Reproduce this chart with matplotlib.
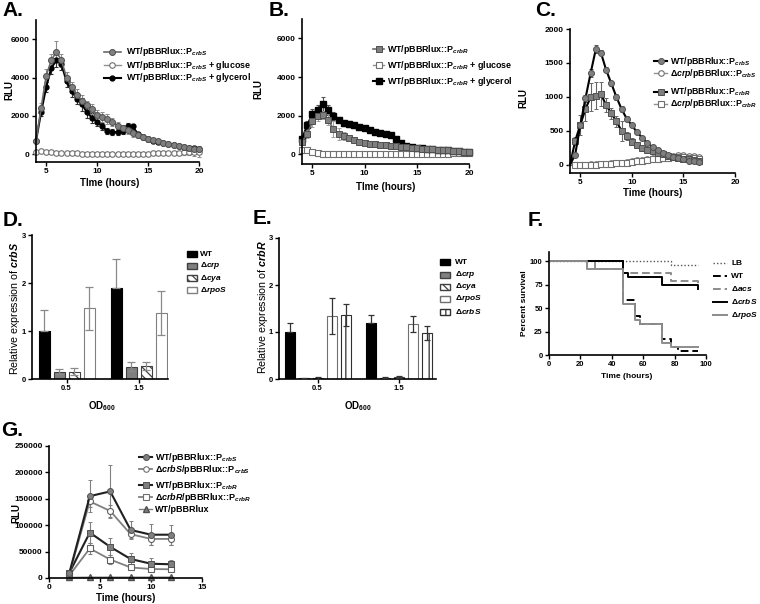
import numpy as np
import matplotlib
matplotlib.use("Agg")
import matplotlib.pyplot as plt
from matplotlib.lines import Line2D
from matplotlib.patches import Rectangle

plt.rcParams.update({
    "font.family": "Liberation Sans",
    "font.weight": "bold",
    "mathtext.fontset": "custom",
    "mathtext.rm": "Liberation Sans:bold",
    "mathtext.bf": "Liberation Sans:bold",
    "mathtext.it": "Liberation Sans:italic",
    "mathtext.bfit": "Liberation Sans:italic:bold",
    "hatch.linewidth": 0.9,
})

# ---------------- data ----------------
# A: PcrbS reporter, 0.5 h reads
A_t = [4, 4.5, 5, 5.5, 6, 6.5, 7, 7.5, 8, 8.5, 9, 9.5, 10, 10.5, 11, 11.5, 12,
       12.5, 13, 13.5, 14, 14.5, 15, 15.5, 16, 16.5, 17, 17.5, 18, 18.5, 19, 19.5, 20]
A_wt = [700, 2400, 4100, 4900, 5350, 4900, 4000, 3500, 3100, 2800, 2550, 2350, 2050,
        1950, 1850, 1700, 1500, 1350, 1250, 1100, 1000, 900, 800, 750, 700, 600, 550,
        500, 450, 400, 350, 300, 300]
A_wt_err = [100, 250, 350, 350, 550, 350, 300, 250, 300, 300, 250, 250, 250, 250, 250,
            200, 200, 200, 200, 200, 150, 150, 150, 120, 120, 120, 100, 100, 100, 100,
            100, 150, 150]
A_glu = [100, 150, 120, 100, 80, 70, 60, 50, 50, 40, 40, 30, 30, 30, 30, 30, 30, 30, 30,
         30, 40, 40, 40, 50, 50, 60, 70, 80, 90, 100, 100, 110, 120]
A_glu_err = [30, 40, 30, 30, 30, 30, 30, 30, 30, 30, 30, 30, 30, 30, 30, 30, 30, 30, 30,
             30, 30, 30, 30, 40, 40, 50, 60, 80, 100, 120, 150, 200, 250]
A_gly = [700, 2200, 3500, 4500, 4900, 4700, 3800, 3300, 2900, 2600, 2200, 1900, 1700,
         1450, 1200, 1150, 1150, 1200, 1500, 1450, 1050, 900, 800, 700, 650, 600, 550,
         500, 450, 400, 350, 330, 300]
A_gly_err = [100, 200, 250, 300, 350, 300, 300, 300, 300, 350, 300, 250, 250, 200, 150,
             150, 150, 150, 150, 150, 100, 100, 100, 100, 100, 100, 100, 100, 100, 100,
             100, 100, 100]

# B: PcrbR reporter
B_t = A_t
B_wt = [650, 1050, 1700, 2000, 2050, 1800, 1300, 1050, 950, 850, 750, 650, 600, 550,
        520, 500, 480, 450, 420, 400, 380, 350, 320, 300, 280, 260, 240, 220, 200, 180,
        160, 140, 120]
B_wt_err = [100, 200, 300, 250, 200, 300, 400, 300, 200, 150, 100, 100, 80, 80, 80, 80,
            80, 80, 80, 60, 60, 60, 60, 60, 60, 50, 50, 50, 50, 50, 50, 50, 50]
B_glu = [200, 220, 120, 50, 30, 20, 20, 20, 20, 20, 20, 20, 20, 20, 20, 20, 20, 20, 20,
         20, 20, 20, 20, 20, 30, 30, 30, 40, 40, 50, 50, 60, 60]
B_gly = [800, 1500, 2100, 2300, 2600, 2300, 2000, 1800, 1600, 1550, 1500, 1400, 1350,
         1250, 1150, 1100, 1050, 1000, 800, 600, 450, 400, 350, 330, 300, 280, 250, 220,
         200, 170, 150, 130, 120]
B_gly_err = [150, 200, 250, 250, 350, 250, 200, 150, 150, 150, 120, 120, 100, 100, 100,
             100, 100, 100, 80, 80, 60, 60, 60, 60, 50, 50, 50, 50, 50, 50, 50, 50, 50]

# C: WT vs crp mutant
C_t = [4, 4.5, 5, 5.5, 6, 6.5, 7, 7.5, 8, 8.5, 9, 9.5, 10, 10.5, 11, 11.5, 12, 12.5,
       13, 13.5, 14, 14.5, 15, 15.5, 16, 16.5]
C_S_wt = [0, 150, 580, 980, 1350, 1700, 1650, 1400, 1200, 1000, 820, 680, 580, 480,
          400, 320, 260, 220, 180, 140, 120, 100, 80, 60, 50, 40]
C_S_wt_err = [0, 30, 40, 50, 60, 60, 40, 40, 40, 40, 40, 40, 30, 30, 30, 30, 30, 30,
              30, 30, 30, 30, 30, 30, 30, 30]
C_S_crp = [0, 0, 0, 5, 10, 10, 15, 15, 20, 25, 30, 40, 55, 65, 75, 85, 95, 105, 115,
           125, 135, 140, 140, 135, 125, 115]
C_R_wt = [0, 350, 590, 820, 1000, 1020, 1040, 880, 760, 640, 500, 420, 340, 290, 250,
          220, 200, 180, 160, 130, 110, 100, 90, 80, 70, 60]
C_R_wt_err = [0, 60, 150, 180, 200, 200, 180, 100, 80, 80, 150, 60, 50, 40, 40, 40, 30,
              30, 30, 30, 30, 30, 30, 30, 30, 30]
C_R_crp = [0, 0, 0, 0, 5, 5, 10, 10, 15, 20, 25, 30, 40, 50, 60, 70, 80, 90, 95, 105,
           110, 115, 110, 105, 95, 85]

# D / E: qRT-PCR
OD_labels = ["0.5", "1.5"]
D_wt, D_wt_err = [1.0, 1.89], [0.44, 0.60]
D_crp, D_crp_err = [0.15, 0.26], [0.05, 0.09]
D_cya, D_cya_err = [0.15, 0.27], [0.07, 0.08]
D_rpos, D_rpos_err = [1.47, 1.37], [0.44, 0.46]

E_wt, E_wt_err = [1.0, 1.2], [0.19, 0.16]
E_crp, E_crp_err = [0.02, 0.03], [0.01, 0.01]
E_cya, E_cya_err = [0.02, 0.04], [0.015, 0.02]
E_rpos, E_rpos_err = [1.34, 1.17], [0.38, 0.16]
E_crbs, E_crbs_err = [1.36, 0.98], [0.24, 0.15]

# F: survival
F_LB_t, F_LB = [0, 78, 95], [100, 95.8, 95.8]
F_WT_t, F_WT = [0, 47, 55, 58, 72, 78, 82, 95], [100, 58.3, 41.7, 33.3, 16.7, 8.3, 4.2, 4.2]
F_acs_t, F_acs = [0, 29, 47, 78, 95], [100, 91.7, 87.5, 79.2, 75.0]
F_crbS_t, F_crbS = [0, 47, 50, 72, 95], [100, 87.5, 83.3, 75.0, 70.8]
F_rpoS_t, F_rpoS = [0, 24, 47, 55, 58, 72, 78, 95], [100, 91.7, 54.2, 37.5, 33.3, 12.5, 8.3, 8.3]

# G: crbS / crbR autoregulation
G_t = [2, 4, 6, 8, 10, 12]
G_S_wt = [10000, 155000, 164000, 91000, 82000, 82000]
G_S_wt_err = [2000, 30000, 50000, 17000, 20000, 19000]
G_S_mut = [8000, 145000, 127000, 83000, 74000, 74000]
G_S_mut_err = [2000, 10000, 12000, 8000, 12000, 11000]
G_R_wt = [10000, 86000, 59000, 36000, 27000, 26000]
G_R_wt_err = [2000, 20000, 16000, 11000, 10000, 9000]
G_R_mut = [5000, 56000, 35000, 20000, 17000, 16500]
G_R_mut_err = [1000, 10000, 8000, 4000, 4000, 4000]
G_empty = [1000, 1500, 1500, 1500, 1500, 1500]

# ---------------- helpers ----------------
W, H = 760, 604
fig = plt.figure(figsize=(W / 100, H / 100), dpi=100)


def box(x0, y0, x1, y1):
    return [x0 / W, 1 - y1 / H, (x1 - x0) / W, (y1 - y0) / H]


def ftext(x, y, s, **kw):
    kw.setdefault("ha", "center")
    kw.setdefault("va", "center")
    fig.text(x / W, 1 - y / H, s, **kw)


def style(ax, fs=6):
    for s in ["top", "right"]:
        ax.spines[s].set_visible(False)
    for s in ["left", "bottom"]:
        ax.spines[s].set_linewidth(1.2)
    ax.tick_params(direction="out", length=3, width=1.0, labelsize=fs, pad=1.5)
    for lab in ax.get_xticklabels() + ax.get_yticklabels():
        lab.set_fontweight("bold")


def leg_line(x0, x1, y, tx, text, fs=7, **kw):
    xs = [x0 / W, (x0 + x1) / 2 / W, x1 / W]
    ys = [1 - y / H] * 3
    fig.add_artist(Line2D(xs, ys, markevery=[1], transform=fig.transFigure, **kw))
    ftext(tx, y, text, ha="left", fontsize=fs)


def leg_patch(x, y, tx, text, fs=6, **kw):
    fig.add_artist(Rectangle((x / W, 1 - (y + 3) / H), 10 / W, 6 / H,
                             transform=fig.transFigure, **kw))
    ftext(tx, y, text, ha="left", fontsize=fs)


GREY = "#7f7f7f"
DARK = "#505050"
ekw = dict(elinewidth=0.8, capsize=1.5, capthick=0.8, clip_on=False)

# ---------------- A ----------------
axA = fig.add_axes(box(36, 20, 199, 162))
axA.errorbar(A_t, A_glu, yerr=A_glu_err, color="#909090", marker="o", ms=4, mfc="white",
             mec="#707070", mew=0.8, lw=1.0, ecolor="#909090", **ekw)
axA.errorbar(A_t, A_gly, yerr=A_gly_err, color="black", marker="o", ms=3.5, mfc="black",
             mec="black", lw=1.5, ecolor="#333333", **ekw)
axA.errorbar(A_t, A_wt, yerr=A_wt_err, color="#6a6a6a", marker="o", ms=4.3, mfc=GREY,
             mec=DARK, mew=0.7, lw=1.2, ecolor="#8c8c8c", **ekw)
axA.set_xlim(4, 20)
axA.set_ylim(-400, 7000)
axA.set_xticks([5, 10, 15, 20])
axA.set_yticks([0, 2000, 4000, 6000])
style(axA)

# ---------------- B ----------------
axB = fig.add_axes(box(302, 19, 469, 164))
axB.errorbar(B_t, B_glu, color="#909090", marker="s", ms=4, mfc="white", mec="#707070",
             mew=0.8, lw=1.0, **ekw)
axB.errorbar(B_t, B_gly, yerr=B_gly_err, color="black", marker="s", ms=4, mfc="black",
             mec="black", lw=1.5, ecolor="#555555", **ekw)
axB.errorbar(B_t, B_wt, yerr=B_wt_err, color="#6a6a6a", marker="s", ms=4, mfc=GREY,
             mec=DARK, mew=0.7, lw=1.2, ecolor="#a0a0a0", **ekw)
axB.set_xlim(4, 20)
axB.set_ylim(-500, 7000)
axB.set_xticks([5, 10, 15, 20])
axB.set_yticks([0, 2000, 4000, 6000])
style(axB)

# ---------------- C ----------------
axC = fig.add_axes(box(570, 29, 735, 173))
axC.errorbar(C_t[1:], C_S_crp[1:], color="#909090", marker="o", ms=4, mfc="white",
             mec="#707070", mew=0.8, lw=1.0, **ekw)
axC.errorbar(C_t[1:], C_R_crp[1:], color="#909090", marker="s", ms=4, mfc="white",
             mec="#707070", mew=0.8, lw=1.0, **ekw)
axC.errorbar(C_t, C_R_wt, yerr=C_R_wt_err, color="black", marker="s", ms=4, mfc=GREY,
             mec=DARK, mew=0.7, lw=1.5, ecolor="#666666", markevery=list(range(1, 26)), **ekw)
axC.errorbar(C_t, C_S_wt, yerr=C_S_wt_err, color="black", marker="o", ms=4.3, mfc=GREY,
             mec=DARK, mew=0.7, lw=1.5, ecolor="#555555", markevery=list(range(1, 26)), **ekw)
axC.set_xlim(4, 20)
axC.set_ylim(-120, 2000)
axC.set_xticks([5, 10, 15, 20])
axC.set_yticks([0, 500, 1000, 1500, 2000])
style(axC)


# ---------------- D / E bars ----------------
def bars(ax, series, step, width, ecol, cap):
    n = len(series)
    g = np.arange(len(OD_labels))
    for i, (vals, err, fc, ec, hatch, lower) in enumerate(series):
        x = g + (i - (n - 1) / 2) * step
        ax.bar(x, vals, width, color=fc, edgecolor=ec, hatch=hatch, linewidth=0.8, zorder=2)
        lo = err if lower else [0] * len(err)
        ax.errorbar(x, vals, yerr=[lo, err], fmt="none", ecolor=ecol, elinewidth=0.9,
                    capsize=cap, capthick=0.9, zorder=3)
    ax.set_xticks(g)
    ax.set_xticklabels(OD_labels)


axD = fig.add_axes(box(32, 235, 168, 379))
bars(axD, [(D_wt, D_wt_err, "black", "black", None, False),
           (D_crp, D_crp_err, "#808080", "#404040", None, True),
           (D_cya, D_cya_err, "white", "#404040", "\\\\\\\\", True),
           (D_rpos, D_rpos_err, "white", "#808080", None, True)],
     15 / 72, 11 / 72, "#8a8a8a", 3.2)
axD.set_xlim((32 - 66.5) / 72, (168 - 66.5) / 72)
axD.set_ylim(0, 3)
axD.set_yticks([0, 1, 2, 3])
style(axD, fs=5.5)

axE = fig.add_axes(box(279, 238, 436, 379))
bars(axE, [(E_wt, E_wt_err, "black", "black", None, False),
           (E_crp, E_crp_err, "#808080", "#404040", None, True),
           (E_cya, E_cya_err, "white", "#404040", "\\\\\\\\", True),
           (E_rpos, E_rpos_err, "white", "#707070", None, True),
           (E_crbs, E_crbs_err, "white", "#303030", "||", True)],
     14 / 81, 10 / 81, "#333333", 2.2)
axE.set_xlim((279 - 317.5) / 81, (436 - 317.5) / 81)
axE.set_ylim(0, 3)
axE.set_yticks([0, 1, 2, 3])
style(axE, fs=5.5)

# ---------------- F ----------------
axF = fig.add_axes(box(549, 252, 706, 355))
axF.step(F_LB_t, F_LB, where="post", color="#555555", lw=1.0, ls=(0, (1, 1.5)))
axF.step(F_acs_t, F_acs, where="post", color="#8c8c8c", lw=1.4, ls=(0, (4, 2)))
axF.step(F_crbS_t, F_crbS, where="post", color="black", lw=1.4)
axF.step(F_WT_t, F_WT, where="post", color="black", lw=1.4, ls=(0, (4, 2)))
axF.step(F_rpoS_t, F_rpoS, where="post", color="#8c8c8c", lw=1.4)
axF.set_xlim(0, 100)
axF.set_ylim(0, 110)
axF.set_xticks([0, 20, 40, 60, 80, 100])
axF.set_yticks([0, 25, 50, 75, 100])
style(axF, fs=5.5)

# ---------------- G ----------------
axG = fig.add_axes(box(49, 446, 202, 578))
axG.errorbar(G_t, G_empty, color="#808080", marker="^", ms=4, mfc=GREY, mec=DARK,
             lw=1.0, **ekw)
axG.errorbar(G_t, G_R_mut, yerr=G_R_mut_err, color="#808080", marker="s", ms=4.3,
             mfc="white", mec="#606060", mew=0.8, lw=1.3, ecolor="#808080", **ekw)
axG.errorbar(G_t, G_R_wt, yerr=G_R_wt_err, color="#202020", marker="s", ms=4.3, mfc=GREY,
             mec=DARK, mew=0.7, lw=1.5, ecolor="#808080", **ekw)
axG.errorbar(G_t, G_S_mut, yerr=G_S_mut_err, color="#808080", marker="o", ms=4.3,
             mfc="white", mec="#606060", mew=0.8, lw=1.3, ecolor="#808080", **ekw)
axG.errorbar(G_t, G_S_wt, yerr=G_S_wt_err, color="#202020", marker="o", ms=4.3, mfc=GREY,
             mec=DARK, mew=0.7, lw=1.5, ecolor="#808080", **ekw)
axG.set_xlim(0, 15)
axG.set_ylim(0, 250000)
axG.set_xticks([0, 5, 10, 15])
axG.set_yticks([0, 50000, 100000, 150000, 200000, 250000])
style(axG)

# ---------------- text ----------------
for x, y, s in [(13, 10, "A."), (279, 11, "B."), (546, 10, "C."), (13, 221, "D."),
                (262, 218, "E."), (536, 221, "F."), (12, 431, "G.")]:
    ftext(x, y, s, fontsize=15, fontweight="bold")

ftext(9, 90, "RLU", rotation=90, fontsize=7)
ftext(110, 183, "TIme (hours)", fontsize=7)
ftext(258, 89, "RLU", rotation=90, fontsize=7)
ftext(386, 187, "TIme (hours)", fontsize=7)
ftext(523, 98, "RLU", rotation=90, fontsize=7)
ftext(653, 193, "Time (hours)", fontsize=7)
ftext(15, 308, r"Relative expression of $\mathit{crbS}$", rotation=90, fontsize=7.7,
      fontweight="normal")
ftext(263, 307, r"Relative expression of $\mathit{crbR}$", rotation=90, fontsize=7.7,
      fontweight="normal")
ftext(102, 406, r"OD$_{\mathbf{600}}$", fontsize=7)
ftext(358, 406, r"OD$_{\mathbf{600}}$", fontsize=7)
ftext(525, 303, "Percent survival", rotation=90, fontsize=6)
ftext(627, 377, "Time (hours)", fontsize=6)
ftext(16, 513, "RLU", rotation=90, fontsize=7)
ftext(126, 598, "Time (hours)", fontsize=7)

# legends
gfill = dict(marker="o", ms=4.3, mfc=GREY, mec=DARK, mew=0.7)
gopen = dict(marker="o", ms=4, mfc="white", mec="#707070", mew=0.8)
sfill = dict(marker="s", ms=4, mfc=GREY, mec=DARK, mew=0.7)
sopen = dict(marker="s", ms=4, mfc="white", mec="#707070", mew=0.8)

PS = r"WT/pBBRlux::P$_{\mathbfit{crbS}}$"
PR = r"WT/pBBRlux::P$_{\mathbfit{crbR}}$"
leg_line(104, 121, 52, 126, PS, fs=6.4, color="#6a6a6a", lw=1.2, **gfill)
leg_line(104, 121, 65, 126, PS + " + glucose", fs=6.4, color="#909090", lw=1.0, **gopen)
leg_line(104, 121, 78, 126, PS + " + glycerol", fs=6.4, color="black", lw=1.5, marker="o",
         ms=3.5, mfc="black", mec="black")

leg_line(373, 384, 49, 387, PR, fs=6.4, color="#6a6a6a", lw=1.2, **sfill)
leg_line(373, 384, 65, 387, PR + " + glucose", fs=6.4, color="#909090", lw=1.0, **sopen)
leg_line(373, 384, 81, 387, PR + " + glycerol", fs=6.4, color="black", lw=1.5, marker="s",
         ms=4, mfc="black", mec="black")

leg_line(654, 667, 61, 670, PS, fs=6.3, color="black", lw=1.5, **gfill)
leg_line(654, 667, 73, 670, r"Δ$\mathbfit{crp}$/pBBRlux::P$_{\mathbfit{crbS}}$", fs=6.3,
         color="#909090", lw=1.0, **gopen)
leg_line(654, 667, 92, 670, PR, fs=6.3, color="black", lw=1.5, **sfill)
leg_line(654, 667, 104, 670, r"Δ$\mathbfit{crp}$/pBBRlux::P$_{\mathbfit{crbR}}$", fs=6.3,
         color="#909090", lw=1.0, **sopen)

leg_patch(187, 254, 200, "WT", facecolor="black", edgecolor="black")
leg_patch(187, 266, 200, r"Δ$\mathbfit{crp}$", facecolor="#808080", edgecolor="#404040")
leg_patch(187, 278, 200, r"Δ$\mathbfit{cya}$", facecolor="white", edgecolor="#404040",
          hatch="\\\\\\\\")
leg_patch(187, 290, 200, r"Δ$\mathbfit{rpoS}$", facecolor="white", edgecolor="#808080")

leg_patch(440, 262, 455, "WT", facecolor="black", edgecolor="black")
leg_patch(440, 275, 455, r"Δ$\mathbfit{crp}$", facecolor="#808080", edgecolor="#404040")
leg_patch(440, 287, 455, r"Δ$\mathbfit{cya}$", facecolor="white", edgecolor="#404040",
          hatch="\\\\\\\\")
leg_patch(440, 299, 455, r"Δ$\mathbfit{rpoS}$", facecolor="white", edgecolor="#707070")
leg_patch(440, 312, 455, r"Δ$\mathbfit{crbS}$", facecolor="white", edgecolor="#303030",
          hatch="||")

leg_line(713, 727, 263, 731, "LB", fs=6, color="#555555", lw=1.0, ls=(0, (1, 1.5)))
leg_line(713, 727, 276, 731, "WT", fs=6, color="black", lw=1.4, ls=(0, (4, 2)))
leg_line(713, 727, 289, 731, r"Δ$\mathit{acs}$", fs=6, color="#8c8c8c", lw=1.4,
         ls=(0, (4, 2)))
leg_line(713, 727, 302, 731, r"Δ$\mathit{crbS}$", fs=6, color="black", lw=1.4)
leg_line(713, 727, 315, 731, r"Δ$\mathit{rpoS}$", fs=6, color="#8c8c8c", lw=1.4)

leg_line(139, 152, 457, 155, PS, fs=6.5, color="#202020", lw=1.5, **gfill)
leg_line(139, 152, 469, 155, r"Δ$\mathbfit{crbS}$/pBBRlux::P$_{\mathbfit{crbS}}$", fs=6.5,
         color="#808080", lw=1.3, **gopen)
leg_line(139, 152, 485, 155, PR, fs=6.5, color="#202020", lw=1.5, **sfill)
leg_line(139, 152, 497, 155, r"Δ$\mathbfit{crbR}$/pBBRlux::P$_{\mathbfit{crbR}}$", fs=6.5,
         color="#808080", lw=1.3, **sopen)
leg_line(139, 152, 509, 155, "WT/pBBRlux", fs=6.5, color="#808080", lw=1.0, marker="^",
         ms=4, mfc=GREY, mec=DARK)

fig.savefig("out.png", dpi=100)
